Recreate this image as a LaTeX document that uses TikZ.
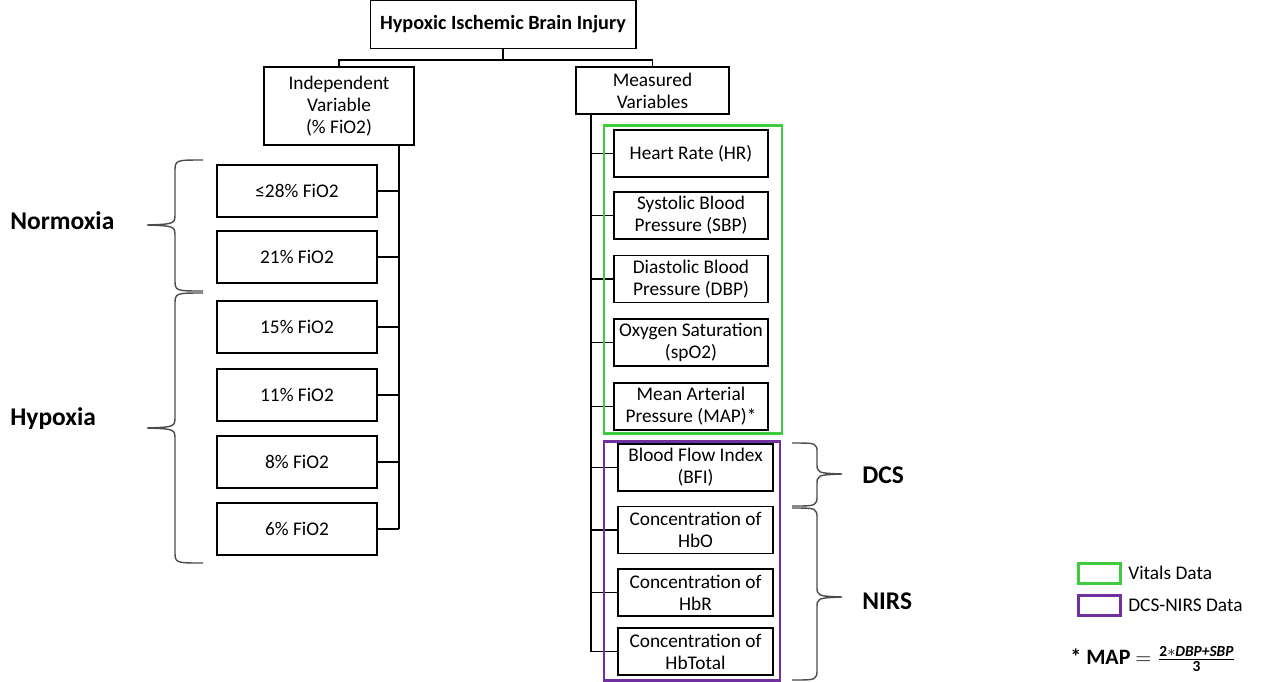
\documentclass[tikz,border=0pt]{standalone}
\usepackage{amsmath,amssymb}
\usepackage{fontspec}
\setmainfont{Carlito}
\usepackage{tikz}
\usetikzlibrary{positioning, calc}
\definecolor{vitalgreen}{RGB}{62,204,62}
\definecolor{nirspurple}{RGB}{112,48,160}

\begin{document}
\begin{tikzpicture}[
  x=0.02cm, y=-0.02cm,
  box/.style={rectangle, draw=black, line width=0.6pt, align=center, inner sep=1pt,
              font=\fontsize{11}{12.5}\selectfont},
  titlebox/.style={box, minimum width=5.32cm, minimum height=0.96cm,
                   font=\fontsize{11.5}{13}\selectfont\bfseries},
  fiobox/.style={box, minimum width=3.2cm, minimum height=1.04cm},
  varbox/.style={box, minimum width=3.08cm, minimum height=0.94cm},
  groupname/.style={anchor=west, inner sep=0pt, font=\fontsize{14.5}{17}\selectfont\bfseries},
  link/.style={draw=black, line width=0.6pt},
  curly/.style={draw=black!70, line width=0.8pt},
  frame/.style={draw=#1, line width=1.7pt}
]
\useasboundingbox (0,0) rectangle (1262,681);

% top of the tree
\node[titlebox] (hibi) at (503,24.5) {Hypoxic Ischemic Brain Injury};
\node[box, minimum width=3cm, minimum height=1.56cm] (indep) at (339,106) {Independent\\Variable\\(\% FiO2)};
\node[box, minimum width=3.06cm, minimum height=0.94cm] (meas) at (652.5,90.5) {Measured\\Variables};
\coordinate (split) at (503,60);

% FiO2 levels
\node[fiobox] (fio28) at (297,191) {≤28\% FiO2};
\node[fiobox] (fio21) at (297,257) {21\% FiO2};
\node[fiobox] (fio15) at (297,327) {15\% FiO2};
\node[fiobox] (fio11) at (297,395) {11\% FiO2};
\node[fiobox] (fio8) at (297,462) {8\% FiO2};
\node[fiobox] (fio6) at (297,529) {6\% FiO2};
\coordinate (lspine) at (399,529);

% measured variables
\node[varbox] (hr) at (691,153.5) {Heart Rate (HR)};
\node[varbox] (sbp) at (691,215.5) {Systolic Blood\\Pressure (SBP)};
\node[varbox] (dbp) at (691,279) {Diastolic Blood\\Pressure (DBP)};
\node[varbox] (spo) at (691,342.5) {Oxygen Saturation\\(spO2)};
\node[varbox] (map) at (691,406.5) {Mean Arterial\\Pressure (MAP)*};
\node[varbox, minimum width=3.1cm] (bfi) at (695.5,467.5) {Blood Flow Index\\(BFI)};
\node[varbox, minimum width=3.1cm] (hbo) at (695.5,530) {Concentration of\\HbO};
\node[varbox, minimum width=3.1cm] (hbr) at (695.5,592.5) {Concentration of\\HbR};
\node[varbox, minimum width=3.1cm] (hbt) at (695.5,651.5) {Concentration of\\HbTotal};
\coordinate (rspine) at (591,651.5);

% tree links
\draw[link] (hibi.south) -- (split);
\draw[link] (indep.north) |- (split) -| (meas.north);
\draw[link] (indep.south -| lspine) -- (lspine);
\draw[link] (fio28.east) -- (fio28.east -| lspine);
\draw[link] (fio21.east) -- (fio21.east -| lspine);
\draw[link] (fio15.east) -- (fio15.east -| lspine);
\draw[link] (fio11.east) -- (fio11.east -| lspine);
\draw[link] (fio8.east) -- (fio8.east -| lspine);
\draw[link] (fio6.east) -- (fio6.east -| lspine);
\draw[link] (meas.south -| rspine) -- (rspine);
\draw[link] (hr.west) -- (hr.west -| rspine);
\draw[link] (sbp.west) -- (sbp.west -| rspine);
\draw[link] (dbp.west) -- (dbp.west -| rspine);
\draw[link] (spo.west) -- (spo.west -| rspine);
\draw[link] (map.west) -- (map.west -| rspine);
\draw[link] (bfi.west) -- (bfi.west -| rspine);
\draw[link] (hbo.west) -- (hbo.west -| rspine);
\draw[link] (hbr.west) -- (hbr.west -| rspine);
\draw[link] (hbt.west) -- (hbt.west -| rspine);

% data frames
\draw[frame=vitalgreen] (604,125) rectangle (782,433);
\draw[frame=nirspurple] (604,441) rectangle (780,680);

% braces and group names
\draw[curly] (203,160) .. controls (175,160) .. (175,172) -- (175,213)
  .. controls (175,224) .. (147,225) .. controls (175,226) .. (175,237) -- (175,279)
  .. controls (175,291) .. (203,291);
\draw[curly] (203,293) .. controls (175,293) .. (175,305) -- (175,416)
  .. controls (175,427) .. (147,428) .. controls (175,429) .. (175,440) -- (175,551)
  .. controls (175,563) .. (203,563);
\node[groupname] (normo) at (10,221) {Normoxia};
\node[groupname] (hypo) at (10,419) {Hypoxia};
\draw[curly] (792,443) .. controls (817,443) .. (817,453) -- (817,463)
  .. controls (817,473) .. (842,474) .. controls (817,475) .. (817,485) -- (817,495)
  .. controls (817,506) .. (792,506);
\draw[curly] (792,508) .. controls (817,508) .. (817,519) -- (817,586)
  .. controls (817,596) .. (842,597) .. controls (817,598) .. (817,608) -- (817,669)
  .. controls (817,680) .. (792,680);
\node[groupname] (dcs) at (862,475) {DCS};
\node[groupname] (nirs) at (862,601) {NIRS};

% legend
\draw[frame=vitalgreen] (1078,563) rectangle (1120,583);
\draw[frame=nirspurple] (1078,595) rectangle (1120,615);
\node[anchor=west, inner sep=0pt, font=\fontsize{11}{13}\selectfont] (vitals) at (1128,573) {Vitals Data};
\node[anchor=west, inner sep=0pt, font=\fontsize{11}{13}\selectfont] (nirsdata) at (1128,605) {DCS-NIRS Data};
\node[font=\fontsize{12.5}{14}\selectfont] (mapdef) at (1153,659)
  {\textbf{* MAP} $=\frac{\text{\bfseries 2$*$\itshape DBP+SBP}}{\text{\bfseries 3}}$};
\end{tikzpicture}
\end{document}
